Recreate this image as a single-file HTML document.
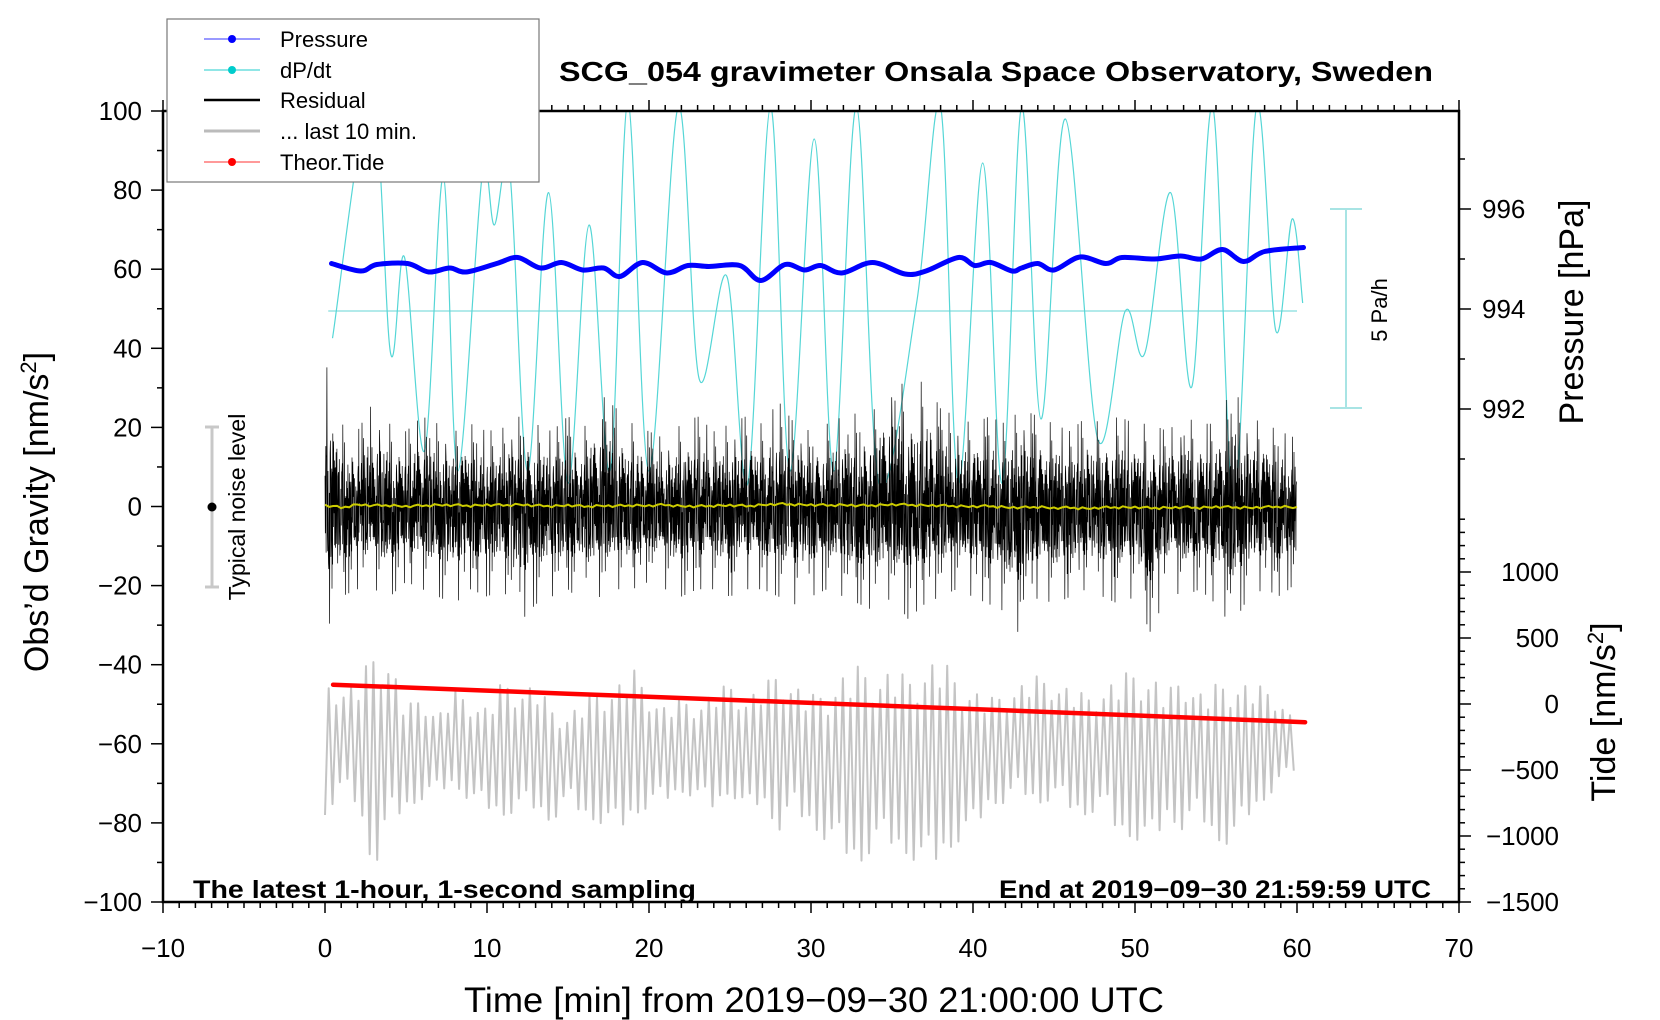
<!DOCTYPE html>
<html><head><meta charset="utf-8"><style>
html,body{margin:0;padding:0;background:#fff;}
svg{display:block;font-family:"Liberation Sans",Arial,sans-serif;}
</style></head><body>
<svg id="chart" width="1660" height="1020" viewBox="0 0 1660 1020" xmlns="http://www.w3.org/2000/svg">
<defs><clipPath id="plotclip"><rect x="163" y="111" width="1296" height="791"/></clipPath></defs>
<g id="marks" clip-path="url(#plotclip)"></g>
<g id="axes"></g>
<text x="559" y="81" font-size="28" font-weight="bold" textLength="874" lengthAdjust="spacingAndGlyphs">SCG_054 gravimeter Onsala Space Observatory, Sweden</text>
<text x="193" y="898" font-size="25" font-weight="bold" textLength="503" lengthAdjust="spacingAndGlyphs">The latest 1-hour, 1-second sampling</text>
<text x="1431" y="898" font-size="25" font-weight="bold" text-anchor="end" textLength="432" lengthAdjust="spacingAndGlyphs">End at 2019−09−30 21:59:59 UTC</text>
<text x="814" y="1012" font-size="35" text-anchor="middle" textLength="700" lengthAdjust="spacingAndGlyphs">Time [min] from 2019−09−30 21:00:00 UTC</text>
<text transform="translate(48,512) rotate(-90)" font-size="34" text-anchor="middle">Obs’d Gravity [nm/s<tspan dy="-12" font-size="22">2</tspan><tspan dy="12">]</tspan></text>
<text transform="translate(1583,312) rotate(-90)" font-size="34" text-anchor="middle">Pressure [hPa]</text>
<text transform="translate(1615,712) rotate(-90)" font-size="34" text-anchor="middle">Tide [nm/s<tspan dy="-12" font-size="22">2</tspan><tspan dy="12">]</tspan></text>
<g>
<line x1="212" y1="427" x2="212" y2="587" stroke="#c8c8c8" stroke-width="3"/>
<line x1="205" y1="427" x2="219" y2="427" stroke="#c8c8c8" stroke-width="3"/>
<line x1="205" y1="587" x2="219" y2="587" stroke="#c8c8c8" stroke-width="3"/>
<circle cx="212" cy="507" r="4.5" fill="#000"/>
<text transform="translate(245,507) rotate(-90)" font-size="23" text-anchor="middle">Typical noise level</text>
</g>
<g>
<line x1="1346" y1="209" x2="1346" y2="408" stroke="#a8e4e4" stroke-width="2"/>
<line x1="1330" y1="209" x2="1362" y2="209" stroke="#a8e4e4" stroke-width="2"/>
<line x1="1330" y1="408" x2="1362" y2="408" stroke="#a8e4e4" stroke-width="2"/>
<text transform="translate(1387,310) rotate(-90)" font-size="22" text-anchor="middle">5 Pa/h</text>
</g>
<g id="legend">
<rect x="167" y="19" width="372" height="163" fill="#fff" stroke="#777" stroke-width="1.2"/>
<g><line x1="204" y1="39" x2="260" y2="39" stroke="#3333ff" stroke-width="1"/><circle cx="232" cy="39" r="4" fill="#0000ff"/><text x="280" y="47" font-size="22">Pressure</text></g>
<g><line x1="204" y1="70" x2="260" y2="70" stroke="#22cccc" stroke-width="1"/><circle cx="232" cy="70" r="4" fill="#00cccc"/><text x="280" y="78" font-size="22">dP/dt</text></g>
<g><line x1="204" y1="100" x2="260" y2="100" stroke="#000" stroke-width="2.5"/><text x="280" y="108" font-size="22">Residual</text></g>
<g><line x1="204" y1="131" x2="260" y2="131" stroke="#bbb" stroke-width="3"/><text x="280" y="139" font-size="22">... last 10 min.</text></g>
<g><line x1="204" y1="162" x2="260" y2="162" stroke="#ff3333" stroke-width="1"/><circle cx="232" cy="162" r="4" fill="#ff0000"/><text x="280" y="170" font-size="22">Theor.Tide</text></g>
</g>
</svg>
<script>
const xTicks=[-10,0,10,20,30,40,50,60,70];
const yTicks=[-100,-80,-60,-40,-20,0,20,40,60,80,100];
const pTicks=[992,994,996];
const tideTicks=[-1500,-1000,-500,0,500,1000];
const pressT=[0.4,2.2,3.2,5.1,6.4,7.7,8.7,10.6,11.9,13.3,14.6,15.9,17.2,18.2,19.6,21.1,22.4,23.7,25.6,26.9,28.4,29.6,30.6,31.9,33.8,35.8,37.1,39.1,40.1,41.1,42.4,43.0,44.0,45.0,46.6,48.2,49.2,51.2,52.8,54.1,55.4,56.7,58.0,60.4];
const pressV=[994.91,994.76,994.89,994.91,994.74,994.82,994.74,994.91,995.03,994.82,994.93,994.78,994.82,994.65,994.93,994.72,994.87,994.85,994.87,994.57,994.89,994.78,994.87,994.72,994.93,994.70,994.76,995.03,994.87,994.93,994.76,994.82,994.91,994.78,995.04,994.91,995.03,995.00,995.06,995.00,995.19,994.95,995.15,995.23];
const dpT=[0.46,2.87,4.05,4.9,6.14,7.3,8.2,9.7,10.45,11.4,12.5,13.8,15.0,16.3,17.6,18.7,20.0,21.8,23.1,24.8,26.1,27.5,28.7,30.2,31.4,32.8,34.2,36.5,38.0,39.1,40.6,41.8,43.0,44.2,45.7,47.7,49.4,50.6,52.2,53.5,54.8,56.1,57.5,58.7,59.7,60.35];
const dpV=[-0.68,5.4,-1.06,1.35,-3.5,3.36,-4.0,3.36,2.15,3.5,-4.0,2.96,-4.3,2.15,-4.0,5.2,-4.0,5.1,-1.7,0.87,-4.3,5.1,-4.0,4.3,-4.0,5.1,-4.3,0.15,5.1,-4.3,3.7,-4.3,5.1,-2.7,4.8,-3.2,0.0,-1.06,2.96,-1.9,5.1,-4.8,5.1,-0.5,2.3,0.2];
const tideT=[0.5,15,30,45,60.5];
const tideV=[146,78,8,-62,-138];
const resHi=[39,22,20,28,22,20,24,22,20,22,20,21,24,22,20,24,21,30,26,22,20,18,22,24,20,22,24,22,28,22,20,22,24,25,26,37,30,34,26,24,22,24,22,26,24,22,20,24,22,24,22,22,20,24,22,22,32,24,22,20,18];
const resLo=[-34,-24,-22,-22,-24,-20,-22,-24,-26,-22,-24,-22,-31,-26,-24,-22,-26,-24,-22,-22,-20,-22,-24,-22,-22,-24,-22,-22,-24,-26,-24,-22,-24,-26,-28,-24,-30,-26,-24,-22,-24,-26,-28,-35,-24,-26,-24,-22,-24,-26,-24,-34,-22,-24,-22,-26,-32,-24,-22,-24,-20];
const smoothV=[0.3,-0.3,0.5,0.2,0.3,0,0.2,0.4,0.3,0.2,0.4,0.3,0.5,0.2,0.1,0.3,0,0.2,0.1,0.3,0.2,0.4,0.1,0,0.2,0.3,0.1,0.4,0.6,0.5,0.4,0.3,0.4,0.2,0.3,0.5,0.4,0.3,0.2,0.1,0,0.1,-0.2,-0.3,-0.1,-0.4,-0.3,-0.5,-0.3,-0.2,-0.2,-0.4,-0.3,-0.2,-0.3,-0.1,-0.2,-0.3,-0.2,0,-0.3];
const grayHi=[-43,-45,-44,-35,-37,-50,-47,-52,-46,-48,-50,-43,-45,-44,-50,-52,-48,-45,-44,-40,-46,-50,-48,-49,-46,-44,-47,-45,-40,-44,-47,-45,-41,-39,-41,-40,-42,-38,-37,-42,-45,-48,-46,-44,-42,-43,-45,-47,-45,-42,-40,-41,-46,-41,-46,-44,-42,-44,-45,-48,-55];
const grayLo=[-78,-72,-75,-92,-80,-76,-74,-72,-70,-75,-76,-78,-77,-76,-80,-74,-78,-80,-82,-78,-76,-74,-72,-74,-76,-72,-78,-74,-82,-77,-80,-85,-87,-90,-86,-85,-88,-92,-88,-85,-82,-75,-75,-72,-75,-74,-76,-78,-76,-82,-84,-86,-78,-82,-78,-84,-86,-78,-74,-70,-66];

const NS='http://www.w3.org/2000/svg';
const X=t=>325+(t)*16.2;
const Y=g=>506.5-g*3.955;
const YP=p=>309-(p-994)*50;
const YD=d=>311-d*40;
const YT=v=>704-v*0.132;
const marks=document.getElementById('marks');
const axes=document.getElementById('axes');
function mk(tag,attrs,parent){const e=document.createElementNS(NS,tag);for(const k in attrs)e.setAttribute(k,attrs[k]);parent.appendChild(e);return e;}
function env(arr,t){const i=Math.max(0,Math.min(arr.length-2,Math.floor(t)));const f=Math.min(1,Math.max(0,t-i));return arr[i]*(1-f)+arr[i+1]*f;}
function catmull(xs,ys){let d='M'+xs[0].toFixed(1)+','+ys[0].toFixed(1);for(let i=0;i<xs.length-1;i++){const x0=xs[Math.max(0,i-1)],y0=ys[Math.max(0,i-1)],x1=xs[i],y1=ys[i],x2=xs[i+1],y2=ys[i+1],x3=xs[Math.min(xs.length-1,i+2)],y3=ys[Math.min(xs.length-1,i+2)];const c1x=x1+(x2-x0)/6,c1y=y1+(y2-y0)/6,c2x=x2-(x3-x1)/6,c2y=y2-(y3-y1)/6;d+='C'+c1x.toFixed(1)+','+c1y.toFixed(1)+' '+c2x.toFixed(1)+','+c2y.toFixed(1)+' '+x2.toFixed(1)+','+y2.toFixed(1);}return d;}

(function(){let d='';const period=0.46;const wob=[1,0.75,0.9,0.6,1,0.85,0.7,0.95,0.8,0.65,1,0.9];const n=Math.floor(60/(period/2));for(let k=0;k<=n;k++){const t=k*period/2;const mid=(env(grayLo,t)+env(grayHi,t))/2;const a=(k%2===0)?env(grayLo,t)-mid:env(grayHi,t)-mid;const v=mid+a*wob[(k*5)%12];d+=(k?'L':'M')+X(t).toFixed(1)+','+Y(v).toFixed(1);}
const p=mk('path',{d:d,fill:'none',stroke:'#c4c4c4','stroke-width':2,'stroke-linejoin':'round'},marks);

})();

const bl=mk('line',{x1:X(0.2),y1:YD(0),x2:X(60),y2:YD(0),stroke:'#66d4d4','stroke-width':1},marks);


const dp=mk('path',{d:catmull(dpT.map(X),dpV.map(YD)),fill:'none',stroke:'#55d6d6','stroke-width':1.2},marks);



(function(){const pat=[0.2,-0.35,0.5,-0.15,0.3,-0.55,0.08,-0.25,0.4,-0.45,0.18,-0.1,0.75,-0.3,0.12,-0.5,0.35,-0.2,0.25,-0.4,0.1,-0.7,0.3,-0.18,0.5,-0.35,0.04,-0.22,0.4,-0.5,0.22,-0.06,0.6,-0.38,0.15,-0.3,0.95,-0.95,0.28,-0.42,0.55,-0.12,0.33];const P=pat.length;let d='';
for(let k=0;k<3600;k++){const t=k/60;const idx=(k*17+Math.floor(k/P)*5+Math.floor(k/7)*3)%P;const q=pat[idx];const v=q>=0?q*env(resHi,t):-q*env(resLo,t);d+=(k?'L':'M')+X(t).toFixed(1)+','+Y(v).toFixed(1);}
const p=mk('path',{d:d,fill:'none',stroke:'#000','stroke-width':0.7},marks);

})();

(function(){const pat=[0.3,-0.4,0.2,0.5,-0.2,0.1,-0.5,0.4,0,-0.3];let d='';for(let k=0;k<=240;k++){const t=k/4;const v=env(smoothV,t)+pat[k%10]*0.6;d+=(k?'L':'M')+X(t).toFixed(1)+','+Y(v).toFixed(1);}
const p=mk('path',{d:d,fill:'none',stroke:'#cccc00','stroke-width':2},marks);

})();

const pr=mk('path',{d:catmull(pressT.map(X),pressV.map(YP)),fill:'none',stroke:'#0000ff','stroke-width':5,'stroke-linecap':'round'},marks);


const td=mk('path',{d:catmull(tideT.map(X),tideV.map(YT)),fill:'none',stroke:'#ff0000','stroke-width':4.5,'stroke-linecap':'round'},marks);



const fr=mk('rect',{x:163,y:111,width:1296,height:791,fill:'none',stroke:'#000','stroke-width':2.5},axes);


for(let t=-10;t<=70;t++){const major=(t%10===0);const L=major?11:6;mk('line',{x1:X(t),y1:902,x2:X(t),y2:902+L,stroke:'#000','stroke-width':1.5},axes);mk('line',{x1:X(t),y1:111,x2:X(t),y2:111-L,stroke:'#000','stroke-width':1.5},axes);}
xTicks.forEach(t=>{const e=mk('text',{x:X(t),y:957,'font-size':26,'text-anchor':'middle'},axes);e.textContent=String(t).replace('-','−');

});
for(let g=-100;g<=100;g+=10){const major=(g%20===0);mk('line',{x1:163,y1:Y(g),x2:major?151:157,y2:Y(g),stroke:'#000','stroke-width':1.5},axes);}
yTicks.forEach(g=>{const e=mk('text',{x:142,y:Y(g)+9,'font-size':26,'text-anchor':'end'},axes);e.textContent=String(g).replace('-','−');

});
for(let p=991;p<=997;p++){const major=(p%2===0);mk('line',{x1:1459,y1:YP(p),x2:major?1471:1465,y2:YP(p),stroke:'#000','stroke-width':1.5},axes);}
pTicks.forEach(p=>{const e=mk('text',{x:1482,y:YP(p)+9,'font-size':26},axes);e.textContent=String(p);

});
for(let v=-1500;v<=1400;v+=100){const major=(v%500===0);mk('line',{x1:1459,y1:YT(v),x2:major?1471:1465,y2:YT(v),stroke:'#000','stroke-width':1.5},axes);}
tideTicks.forEach(v=>{const e=mk('text',{x:1559,y:YT(v)+9,'font-size':26,'text-anchor':'end'},axes);e.textContent=String(v).replace('-','−');

});
const svg=document.getElementById('chart');
svg.appendChild(document.getElementById('legend'));
</script>
</body></html>
